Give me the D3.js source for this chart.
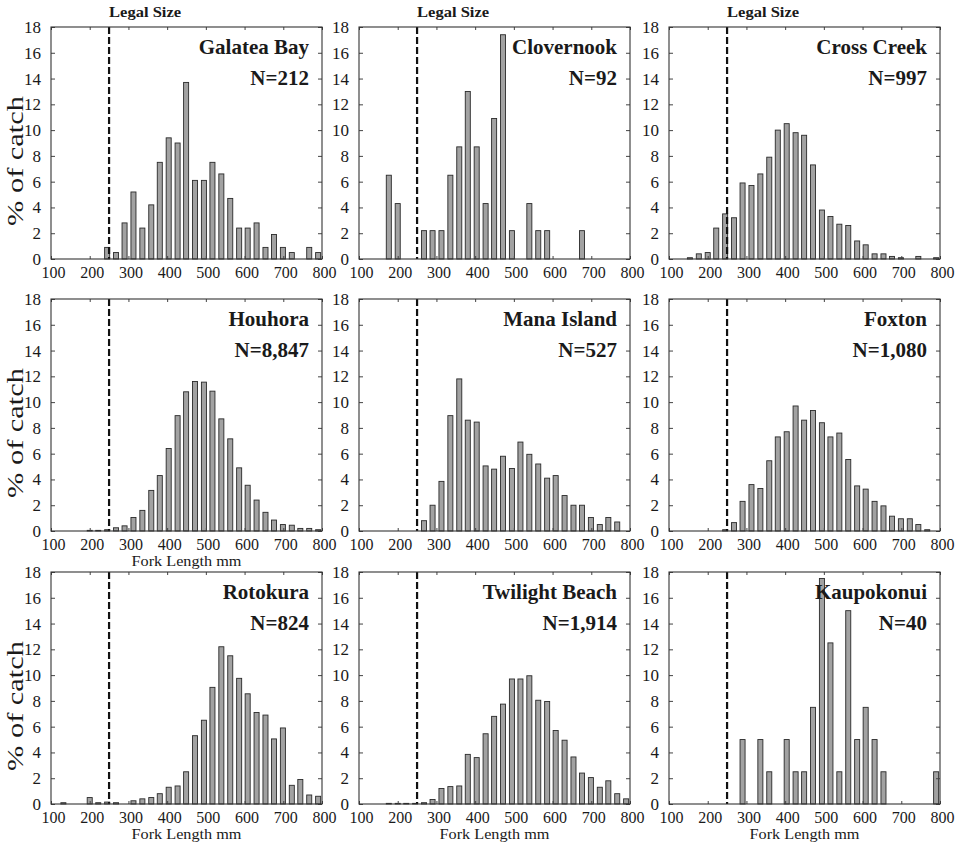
<!DOCTYPE html>
<html>
<head>
<meta charset="utf-8">
<script src="https://cdn.jsdelivr.net/npm/d3@7/dist/d3.min.js"></script>
<style>
  html, body { margin: 0; padding: 0; background: #ffffff; }
  svg { display: block; }
  text { font-family: "Liberation Serif", "Times New Roman", serif; fill: #1a1a1a; }
</style>
</head>
<body>
<svg id="chart" width="960" height="849"></svg>
<script>
// ---------- data ----------
const binMids = [109,132,154,177,200,222,245,268,290,313,336,359,381,404,427,449,472,495,517,540,563,586,608,631,654,676,699,722,744,767,790];

const siteNames = ["Galatea Bay","Clovernook","Cross Creek","Houhora","Mana Island","Foxton","Rotokura","Twilight Beach","Kaupokonui"];
const sampleSizes = ["N=212","N=92","N=997","N=8,847","N=527","N=1,080","N=824","N=1,914","N=40"];

const galateaBay    = [0,0,0,0,0,0, 0.9,0.5,2.8,5.2,2.4,4.2,7.5,9.4,9.0,13.7,6.1,6.1,7.5,6.6,4.7,2.4,2.4,2.8,0.9,1.9,0.9,0.5,0,0.9,0.5];
const clovernook    = [0,0,0,6.5,4.3,0, 0,2.2,2.2,2.2,6.5,8.7,13.0,8.7,4.3,10.9,17.4,2.2,0,4.3,2.2,2.2,0,0,0,2.2,0,0,0,0,0];
const crossCreek    = [0,0,0.1,0.4,0.5,2.4, 3.5,3.2,5.9,5.7,6.6,7.9,10.0,10.5,9.8,9.6,7.3,3.8,3.3,2.7,2.6,1.4,1.1,0.4,0.4,0.2,0.1,0,0.2,0,0.1];
const houhora       = [0,0,0,0,0.05,0.05, 0.1,0.25,0.4,1.05,1.6,3.15,4.3,6.4,8.95,10.8,11.6,11.55,10.85,8.7,7.15,4.9,3.55,2.4,1.45,0.85,0.5,0.45,0.2,0.2,0.1];
const manaIsland    = [0,0,0,0,0,0, 0,0.8,2.0,3.85,8.95,11.8,8.6,8.45,5.05,4.8,5.8,4.85,6.9,5.95,5.2,4.1,4.3,2.75,2.0,2.0,1.05,0.5,1.05,0.7,0];
const foxton        = [0,0,0,0,0,0, 0.1,0.65,2.3,3.6,3.3,5.45,7.3,7.7,9.7,8.6,9.35,8.4,7.3,7.6,5.55,3.5,3.25,2.3,1.95,1.15,0.95,0.95,0.5,0.1,0];
const rotokura      = [0,0.1,0,0,0.5,0.1, 0.15,0.1,0,0.25,0.4,0.5,0.8,1.3,1.4,2.5,5.3,6.5,9.05,12.2,11.5,9.75,8.55,7.1,6.9,5.05,5.9,1.45,1.9,0.7,0.6];
const twilightBeach = [0,0,0,0.05,0.05,0.05, 0.05,0.1,0.35,1.2,1.35,1.4,3.85,3.6,5.45,6.8,7.75,9.7,9.7,9.95,8.05,7.95,5.7,4.95,3.65,2.4,2.05,1.3,1.8,0.8,0.4];
const kaupokonui    = [0,0,0,0,0,0, 0,0,5,0,5,2.5,0,5,2.5,2.5,7.5,17.5,12.5,2.5,15,5,7.5,5,2.5,0,0,0,0,0,2.5];

const seriesList = [galateaBay, clovernook, crossCreek, houhora, manaIsland, foxton, rotokura, twilightBeach, kaupokonui];

const xTicks = [100,200,300,400,500,600,700,800];
const yTicks = [0,2,4,6,8,10,12,14,16,18];
const legalSize = 250;
const binHalf = 6.5;

// ---------- layout ----------
const colLeft = [51, 359, 669];
const rowTop = [27, 299, 572];
const W = 271, H = 232;
const serif = '"Liberation Serif", "Times New Roman", serif';

const svg = d3.select("#chart");

seriesList.forEach((vals, i) => {
  const r = Math.floor(i / 3), c = i % 3;
  const g = svg.append("g").attr("transform", `translate(${colLeft[c]},${rowTop[r]})`);
  const x = d3.scaleLinear().domain([100, 800]).range([0, W]);
  const y = d3.scaleLinear().domain([0, 18]).range([H, 0]);

  // bars
  const data = binMids.map((m, j) => ({ m, v: vals[j] })).filter(d => d.v > 0);
  g.selectAll("rect.bar").data(data).join("rect")
    .attr("class", "bar")
    .attr("x", d => x(d.m - binHalf))
    .attr("width", d => x(d.m + binHalf) - x(d.m - binHalf))
    .attr("y", d => y(d.v))
    .attr("height", d => y(0) - y(d.v))
    .attr("fill", "#a2a2a2")
    .attr("stroke", "#2a2a2a")
    .attr("stroke-width", 0.9);

  // legal size line
  g.append("line")
    .attr("x1", x(legalSize)).attr("x2", x(legalSize))
    .attr("y1", y(18)).attr("y2", y(0))
    .attr("stroke", "#111").attr("stroke-width", 2.2)
    .attr("stroke-dasharray", "7,3");

  // axes
  const yAxis = g.append("g").call(d3.axisLeft(y).tickValues(yTicks).tickSize(-4).tickPadding(10));
  yAxis.attr("font-family", null).attr("font-size", null);
  yAxis.select(".domain").remove();
  yAxis.selectAll("line").attr("stroke", "#444");
  yAxis.selectAll("text").style("font-size", "17px").style("font-family", serif).attr("fill", "#1a1a1a");

  const yAxisR = g.append("g").attr("transform", `translate(${W},0)`)
    .call(d3.axisRight(y).tickValues(yTicks).tickSize(-4).tickFormat(""));
  yAxisR.select(".domain").remove();
  yAxisR.selectAll("line").attr("stroke", "#444");

  const xAxis = g.append("g").attr("transform", `translate(0,${H})`)
    .call(d3.axisBottom(x).tickValues(xTicks).tickSize(-3).tickPadding(8));
  xAxis.attr("font-family", null).attr("font-size", null);
  xAxis.select(".domain").remove();
  xAxis.selectAll("line").attr("stroke", "#444");
  xAxis.selectAll("text").style("font-size", "16px").style("font-family", serif)
    .attr("dx", 2).attr("fill", "#1a1a1a");

  const xAxisT = g.append("g")
    .call(d3.axisTop(x).tickValues(xTicks).tickSize(-3).tickFormat(""));
  xAxisT.select(".domain").remove();
  xAxisT.selectAll("line").attr("stroke", "#444");

  // frame
  g.append("rect").attr("x", 0).attr("y", 0).attr("width", W).attr("height", H)
    .attr("fill", "none").attr("stroke", "#333").attr("stroke-width", 1.1);

  // titles
  g.append("text").attr("x", W - 13).attr("y", 27)
    .attr("text-anchor", "end").attr("font-size", 21).attr("font-weight", "bold")
    .text(siteNames[i]);
  g.append("text").attr("x", W - 13).attr("y", 58)
    .attr("text-anchor", "end").attr("font-size", 21).attr("font-weight", "bold")
    .text(sampleSizes[i]);

  // legal size label (top row)
  if (r === 0) {
    g.append("text").attr("x", x(legalSize)).attr("y", -10)
      .attr("font-size", 14).attr("font-weight", "bold")
      .attr("textLength", 72).attr("lengthAdjust", "spacingAndGlyphs")
      .text("Legal Size");
  }

  // y label (left column)
  if (c === 0) {
    g.append("text")
      .attr("transform", `translate(${23 - colLeft[c]},${H / 2 + 18}) rotate(-90)`)
      .attr("text-anchor", "middle").attr("font-size", 24)
      .attr("textLength", 130).attr("lengthAdjust", "spacingAndGlyphs")
      .text("% of catch");
  }

  // x label
  if (r === 2 || (r === 1 && c === 0)) {
    g.append("text").attr("x", W / 2).attr("y", H + 35)
      .attr("text-anchor", "middle").attr("font-size", 15)
      .attr("textLength", 110).attr("lengthAdjust", "spacingAndGlyphs")
      .text("Fork Length mm");
  }
});
</script>
</body>
</html>
